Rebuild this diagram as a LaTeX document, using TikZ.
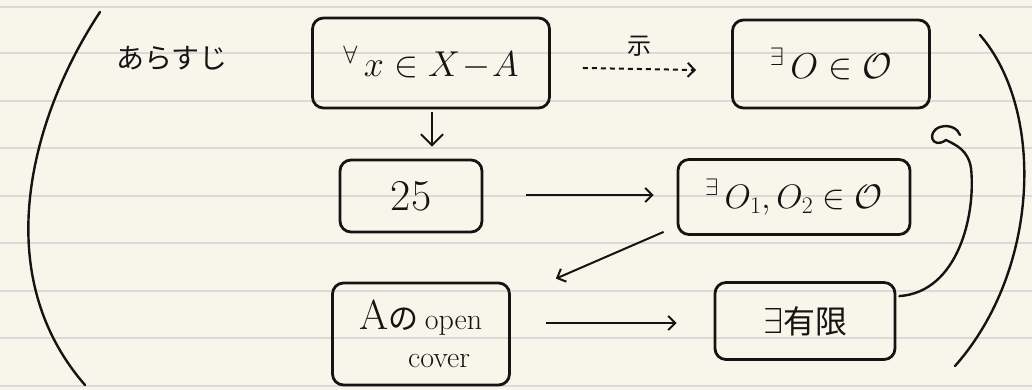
\RequirePackage{fix-cm}
\documentclass[tikz,border=0pt]{standalone}
\usepackage{fontspec}
\newfontfamily\jp{Noto Sans CJK JP}
\usetikzlibrary{arrows.meta,calc}
\definecolor{paper}{HTML}{F8F6EB}
\definecolor{rulecol}{HTML}{DADADA}
\definecolor{ink}{HTML}{141414}
\begin{document}
\begin{tikzpicture}[x=1pt,y=-1pt,
  box/.style={draw=ink, line width=2.8pt, rounded corners=11pt, inner sep=0pt, text=ink,
              font=\fontsize{36}{40}\selectfont},
  arr/.style={draw=ink, line width=2pt, -{Straight Barb[length=7pt,width=14pt,line width=2pt]}},
  pen/.style={draw=ink, line width=2.4pt, line cap=round}]
\fill[paper] (0,0) rectangle (1032,390);
\useasboundingbox (0,0) rectangle (1032,390);
\foreach \y in {7,53,101,148,196,243,291,338,386}
  \draw[rulecol, line width=2pt] (0,\y) -- (1032,\y);

% title
\node[text=ink, font=\jp\fontsize{28}{30}\selectfont] (title) at (172,58) {あらすじ};

% boxes
\node[box, minimum width=237pt, minimum height=90pt] (b1) at (431,63)
  {${}^{\forall}\,x\in X\!-\!A$};
\node[box, minimum width=197pt, minimum height=88pt] (b2) at (831,64)
  {${}^{\exists}\,O\in\mathcal{O}$};
\node[box, minimum width=142pt, minimum height=72pt, font=\fontsize{44}{46}\selectfont] (b3) at (411,196)
  {25};
\node[box, minimum width=232pt, minimum height=75pt, font=\fontsize{34}{38}\selectfont] (b4) at (794,197)
  {${}^{\exists}\,O_1, O_2\in\mathcal{O}$};
\node[box, minimum width=177pt, minimum height=102pt, align=center] (b5) at (421,334)
  {{\fontsize{42}{42}\selectfont A}{\jp\fontsize{30}{30}\selectfont の}\,{\fontsize{30}{30}\selectfont open}\\[-2pt]
   {\fontsize{30}{30}\selectfont \hspace{1.2em}cover}};
\node[box, minimum width=180pt, minimum height=77pt] (b6) at (805,321)
  {$\exists${\jp\fontsize{32}{34}\selectfont 有限}};

% connectors
\draw[arr, dash pattern=on 5pt off 4pt] ($(b1.east)+(32,5)$) -- ($(b2.west)+(-35,6)$)
  node[midway, above=8pt, text=ink, font=\jp\fontsize{24}{26}\selectfont] (lab) {示};
\draw[arr, -{Straight Barb[length=11pt,width=22pt,line width=2pt]}] ($(b1.south)+(1,3)$) -- ($(b1.south |- b3.north)+(1,-12)$);
\draw[arr] ($(b3.east)+(43,-1)$) -- ($(b4.west)+(-23,-2)$);
\draw[arr] ($(b4.south west)+(-13,-4)$) -- ($(b5.north east)+(45,-3)$);
\draw[arr] ($(b5.east)+(35,-11)$) -- ($(b6.west)+(-37,2)$);

% curved arrow from finite box back up
\coordinate (hookend) at (946,140);
\draw[pen] ($(b6.north east)+(3,15)$) .. controls (958,292) and (976,215) .. (971,168)
  .. controls (968,150) and (956,145) .. (hookend)
  .. controls (932,150) and (926,132) .. (940,127)
  .. controls (950,124) and (958,129) .. (960,135);

% big parentheses
\draw[pen] (100,12) .. controls (35,110) and (-15,270) .. (85,385);
\draw[pen] (980,35) .. controls (1045,110) and (1040,270) .. (955,366);
\end{tikzpicture}
\end{document}
